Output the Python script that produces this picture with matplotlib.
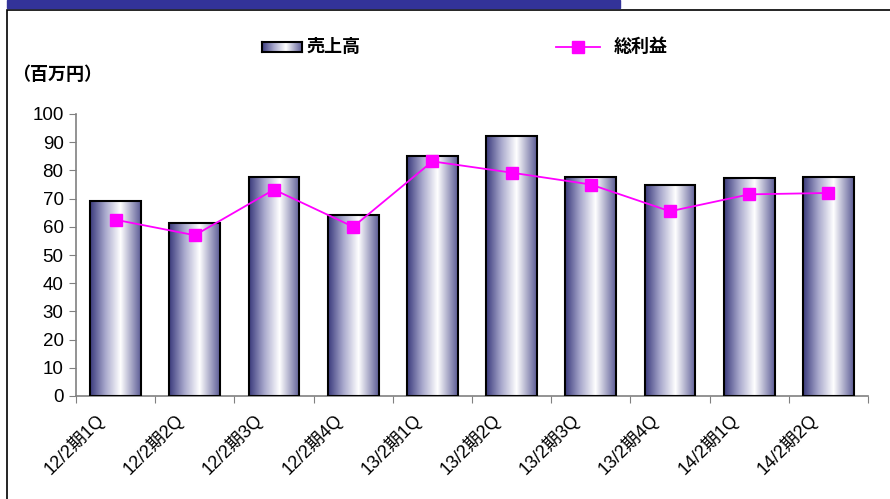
import matplotlib
matplotlib.use('Agg')
import matplotlib.pyplot as plt
import numpy as np
from matplotlib.colors import LinearSegmentedColormap
from matplotlib.lines import Line2D
from matplotlib.patches import Rectangle
import matplotlib.transforms as mtransforms

plt.rcParams['font.family'] = ['Liberation Sans', 'Noto Sans CJK JP', 'DejaVu Sans']

quarters = ['12/2期1Q', '12/2期2Q', '12/2期3Q', '12/2期4Q', '13/2期1Q',
            '13/2期2Q', '13/2期3Q', '13/2期4Q', '14/2期1Q', '14/2期2Q']
sales = [69, 61.3, 77.7, 64.3, 85, 92.3, 77.8, 75, 77.3, 77.8]
gross_profit = [62.5, 57, 73.2, 60, 83.2, 79.2, 75, 65.5, 71.5, 72]

fig = plt.figure(figsize=(8.9, 4.99), dpi=100)
ax = fig.add_axes([76 / 890, 103 / 499, 792 / 890, 282 / 499])

# frame and header bar
fig.patches.append(Rectangle((7 / 890, -0.1), 1.1, 1 - 10 / 499 + 0.1,
                             transform=fig.transFigure, fill=False,
                             edgecolor='black', linewidth=1.2))
fig.patches.append(Rectangle((7 / 890, 1 - 8 / 499), (620 - 7) / 890, 8 / 499,
                             transform=fig.transFigure, color='#333399'))

cmap = LinearSegmentedColormap.from_list(
    'bar', [(0, '#3a3a7c'), (0.3, '#a8a8cc'), (0.6, '#ffffff'), (1, '#5c5c96')])
grad = np.linspace(0, 1, 256).reshape(1, -1)

x = np.arange(len(quarters))
bars = ax.bar(x, sales, width=0.64, color='none', edgecolor='black',
              linewidth=1.5, zorder=3)
for b in bars:
    x0, y0 = b.get_x(), b.get_y()
    im = ax.imshow(grad, cmap=cmap, aspect='auto', zorder=2,
                   extent=[x0, x0 + b.get_width(), y0, y0 + b.get_height()])
    im.set_clip_path(b)

ax.plot(x, gross_profit, color='#ff00ff', linewidth=1.3, marker='s',
        markersize=8, zorder=4)

ax.set_xlim(-0.5, len(quarters) - 0.5)
ax.set_ylim(0, 100)
ax.set_yticks(range(0, 101, 10))
ax.set_xticks(np.arange(len(quarters) + 1) - 0.5)
ax.set_xticklabels([])
ax.set_xticks(x, minor=True)
ax.set_xticklabels(quarters, minor=True, rotation=45, ha='right',
                   rotation_mode='anchor', fontsize=13)
ax.tick_params(axis='x', which='minor', length=0, pad=10)
offset = mtransforms.ScaledTranslation(-21 / 100, 0, fig.dpi_scale_trans)
for lbl in ax.get_xticklabels(minor=True):
    lbl.set_transform(lbl.get_transform() + offset)
ax.tick_params(axis='x', which='major', direction='out', length=5, color='#808080')
ax.tick_params(axis='y', direction='out', length=5, color='#808080', labelsize=13.5, pad=4)
for s in ['top', 'right']:
    ax.spines[s].set_visible(False)
for s in ['left', 'bottom']:
    ax.spines[s].set_color('#808080')
    ax.spines[s].set_linewidth(1.2)

fig.text(12 / 890, 1 - 75 / 499, '（百万円）', fontsize=13, fontweight='bold', va='center')

# legend
lax = fig.add_axes([262 / 890, 1 - 52 / 499, 40 / 890, 10 / 499])
lax.imshow(grad, cmap=cmap, aspect='auto', extent=[0, 1, 0, 1])
lax.set_xticks([])
lax.set_yticks([])
for s in lax.spines.values():
    s.set_linewidth(1.5)
fig.text(306 / 890, 1 - 47 / 499, '売上高', fontsize=13, fontweight='bold', va='center')
fig.lines.append(Line2D([556 / 890, 578 / 890, 600 / 890], [1 - 47 / 499] * 3,
                        transform=fig.transFigure, color='#ff00ff', linewidth=1.3,
                        marker='s', markersize=8, markevery=[1]))
fig.text(614 / 890, 1 - 47 / 499, '総利益', fontsize=13, fontweight='bold', va='center')

fig.savefig('out.png', dpi=100)
